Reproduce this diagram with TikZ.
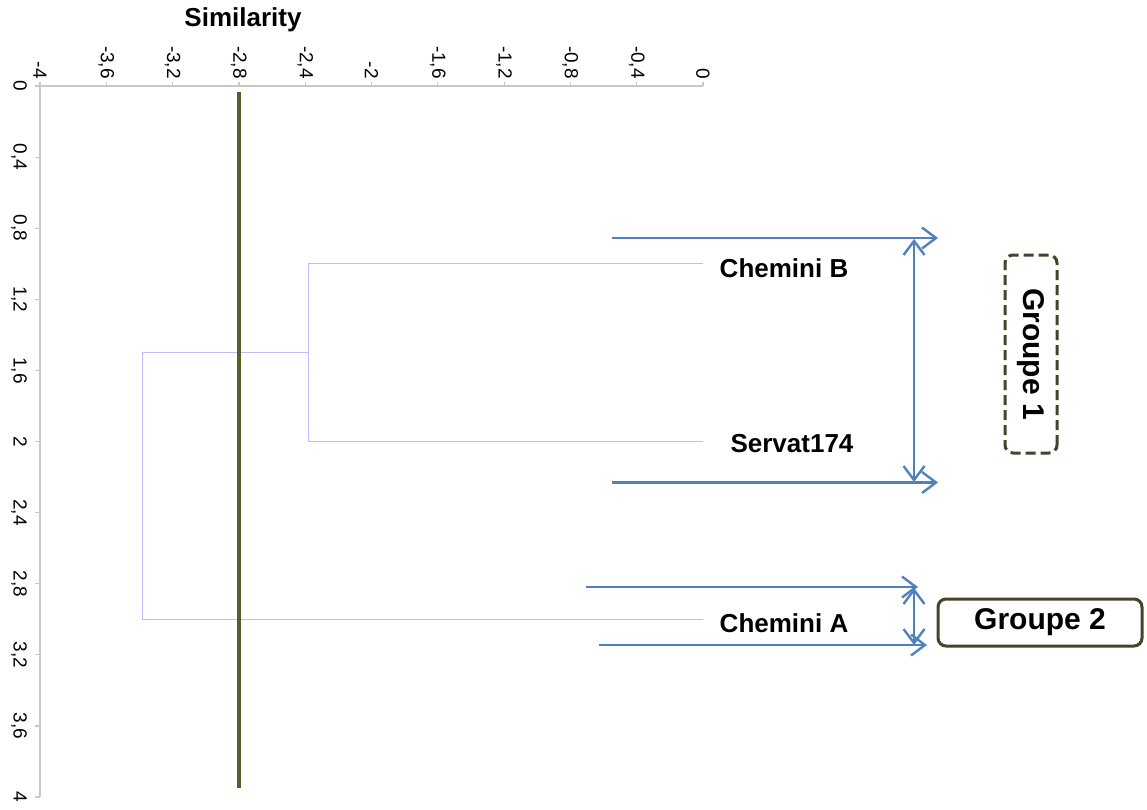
\documentclass[tikz,border=0pt]{standalone}
\usepackage{fontspec}
\setmainfont{Liberation Sans}
\usepackage{xcolor}
\definecolor{axisgray}{RGB}{200,200,200}
\definecolor{treeblue}{RGB}{188,188,255}
\definecolor{cutgreen}{RGB}{79,98,40}
\definecolor{arrblue}{RGB}{79,129,189}
\definecolor{grpdark}{RGB}{72,66,42}
\usepackage{tikz}
\usetikzlibrary{positioning,arrows.meta,calc}
\tikzset{
  axisline/.style={draw=axisgray, line width=1.2pt},
  xlbl/.style    ={rotate=-90, anchor=east, inner sep=0pt, font=\fontsize{19}{19}\selectfont},
  ylbl/.style    ={rotate=-90, anchor=north, inner sep=0pt, font=\fontsize{19}{19}\selectfont},
  ttl/.style     ={font=\fontsize{26}{26}\selectfont\bfseries, inner sep=0pt},
  dendro/.style  ={draw=treeblue, line width=1pt},
  cutline/.style ={draw=cutgreen, line width=4.5pt},
  leaf/.style    ={font=\fontsize{26}{26}\selectfont\bfseries, inner sep=0pt},
  arr/.style     ={draw=arrblue, line width=2.4pt, -{Straight Barb[length=14pt, width=21pt]}},
  darr/.style    ={draw=arrblue, line width=2.4pt,
                   {Straight Barb[length=14pt, width=21pt]}-{Straight Barb[length=14pt, width=21pt]}},
  grpbox/.style  ={draw=grpdark, line width=3pt, rounded corners=8pt, align=center,
                   inner sep=0pt, font=\fontsize{30}{30}\selectfont\bfseries},
  grpdash/.style ={grpbox, dash pattern=on 10pt off 5pt},
}

\begin{document}
\begin{tikzpicture}[x=1pt, y=-1pt]
  \useasboundingbox (0,0) rectangle (1147,809);
  % axes
  \coordinate (o)  at (40,86);
  \coordinate (xe) at (703,86);
  \coordinate (ye) at (40,797);
  \draw[axisline] (xe) -- (o) -- (ye);
  \foreach \i/\t in {0/-4, 1/{-3,6}, 2/{-3,2}, 3/{-2,8}, 4/{-2,4}, 5/-2,
                     6/{-1,6}, 7/{-1,2}, 8/{-0,8}, 9/{-0,4}, 10/0} {
    \draw[axisline] ({40+66.3*\i},86) -- ++(0,4pt);
    \node[xlbl] (xt\i) at ({40+66.3*\i},79) {\t};
  }
  \foreach \i/\t in {0/0, 1/{0,4}, 2/{0,8}, 3/{1,2}, 4/{1,6}, 5/2,
                     6/{2,4}, 7/{2,8}, 8/{3,2}, 9/{3,6}, 10/4} {
    \draw[axisline] (40,{86+71.1*\i}) -- ++(-5pt,0);
    \node[ylbl] (yt\i) at (27,{86+71.1*\i}) {\t};
  }
  \node[ttl] (title) at (243,20) {Similarity};

  % dendrogram
  \coordinate (lB) at (703,263.75);
  \coordinate (lS) at (703,441.5);
  \coordinate (lA) at (703,619.25);
  \coordinate (jBS) at (308.3,352.6);
  \coordinate (jR)  at (142,352.6);
  \draw[dendro] (lB) -| (jBS) |- (lS);
  \draw[dendro] (jBS) -- (jR) |- (lA);
  \draw[cutline] (238.9,92) coordinate (cutT) -- (238.9,788) coordinate (cutB);

  \node[leaf] (chB) at (784,268) {Chemini B};
  \node[leaf] (srv) at (792,444) {Servat174};
  \node[leaf] (chA) at (784,623) {Chemini A};

  % groups
  \coordinate (a1s) at (612,238);   \coordinate (a1e) at (938,238);
  \coordinate (a2s) at (612,482.5); \coordinate (a2e) at (938,482.5);
  \coordinate (v1t) at (914,239);   \coordinate (v1b) at (914,482);
  \draw[arr]  (a1s) -- (a1e);
  \draw[arr]  (a2s) -- (a2e);
  \draw[darr] (v1t) -- (v1b);

  \coordinate (a3s) at (586,587); \coordinate (a3e) at (918,587);
  \coordinate (a4s) at (599,645); \coordinate (a4e) at (927,645);
  \coordinate (v2t) at (914,588); \coordinate (v2b) at (914,645);
  \draw[arr]  (a3s) -- (a3e);
  \draw[arr]  (a4s) -- (a4e);
  \draw[darr] (v2t) -- (v2b);

  \node[grpdash, rotate=-90, minimum width=198pt, minimum height=52pt] (g1) at (1031,354) {Groupe 1};
  \node[grpbox, minimum width=204pt, minimum height=47pt] (g2) at (1040,622.5) {Groupe 2};
\end{tikzpicture}
\end{document}
